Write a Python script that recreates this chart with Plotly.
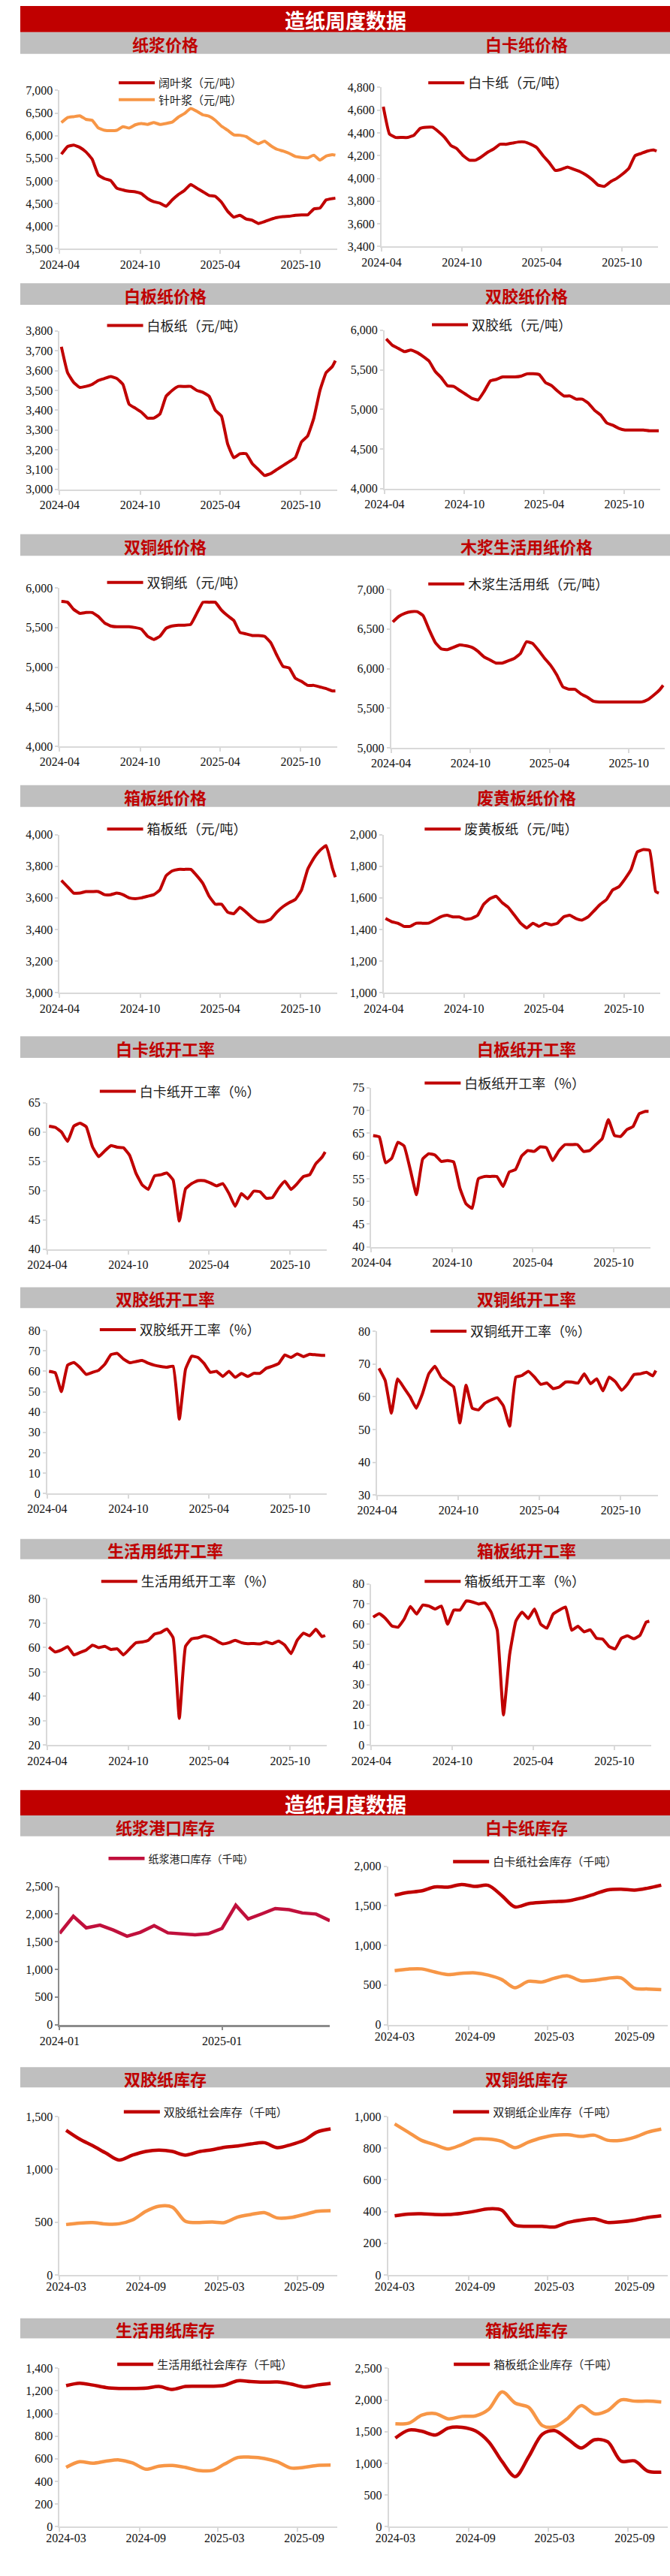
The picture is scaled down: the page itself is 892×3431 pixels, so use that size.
import plotly.graph_objects as go

W, H = 892, 3431
RED = "#C00000"
ORANGE = "#F79646"
CRIMSON = "#C0103C"
GRAY_BAR = "#BFBFBF"
AXIS = "#D9D9D9"
NUM_FONT = "Liberation Serif"
CJK = "Noto Sans CJK SC"

# ---------------- weekly data (two-week sampling) ----------------
weekly_dates = ["2024-04-05", "2024-04-19", "2024-05-03", "2024-05-17", "2024-05-31", "2024-06-14",
                "2024-06-28", "2024-07-12", "2024-07-26", "2024-08-09", "2024-08-23", "2024-09-06",
                "2024-09-20", "2024-10-04", "2024-10-18", "2024-11-01", "2024-11-15", "2024-11-29",
                "2024-12-13", "2024-12-27", "2025-01-10", "2025-01-24", "2025-02-07", "2025-02-21",
                "2025-03-07", "2025-03-21", "2025-04-04", "2025-04-18", "2025-05-02", "2025-05-16",
                "2025-05-30", "2025-06-13", "2025-06-27", "2025-07-11", "2025-07-25", "2025-08-08",
                "2025-08-22", "2025-09-05", "2025-09-19", "2025-10-03", "2025-10-17", "2025-10-31",
                "2025-11-14", "2025-11-28", "2025-12-12", "2025-12-19"]

hardwood_pulp = [5590, 5760, 5790, 5740, 5640, 5480, 5130, 5050, 5010, 4840, 4800, 4770, 4760, 4720, 4610, 4540,
                 4510, 4440, 4580, 4700, 4790, 4920, 4840, 4760, 4680, 4660, 4530, 4330, 4200, 4240, 4160, 4130,
                 4060, 4100, 4150, 4190, 4210, 4220, 4240, 4250, 4250, 4380, 4400, 4580, 4610, 4620]
softwood_pulp = [6290, 6400, 6420, 6440, 6360, 6340, 6170, 6120, 6110, 6120, 6200, 6170, 6240, 6270, 6250, 6290,
                 6250, 6270, 6300, 6410, 6490, 6600, 6540, 6460, 6430, 6340, 6210, 6120, 6020, 6010, 5980, 5890,
                 5820, 5880, 5780, 5700, 5660, 5610, 5540, 5520, 5510, 5570, 5460, 5550, 5580, 5570]
white_card = [4630, 4390, 4360, 4360, 4360, 4380, 4440, 4450, 4450, 4410, 4360, 4290, 4260, 4200, 4160, 4160,
              4190, 4230, 4260, 4300, 4300, 4310, 4320, 4320, 4300, 4270, 4200, 4140, 4070, 4080, 4100, 4080,
              4060, 4030, 3990, 3940, 3930, 3970, 4000, 4040, 4090, 4200, 4220, 4240, 4250, 4240]
white_board = [3720, 3590, 3540, 3515, 3520, 3530, 3550, 3560, 3570, 3560, 3530, 3430, 3410, 3390, 3360, 3360,
               3380, 3470, 3500, 3520, 3520, 3520, 3500, 3490, 3470, 3400, 3370, 3230, 3160, 3180, 3180, 3130,
               3100, 3070, 3080, 3100, 3120, 3140, 3160, 3240, 3270, 3360, 3500, 3590, 3620, 3650]
offset_paper = [5890, 5810, 5770, 5730, 5750, 5720, 5670, 5610, 5480, 5400, 5300, 5290, 5240, 5190, 5140, 5120,
                5230, 5360, 5380, 5410, 5410, 5410, 5420, 5450, 5450, 5440, 5340, 5300, 5230, 5170, 5170, 5130,
                5130, 5080, 4990, 4930, 4830, 4800, 4760, 4740, 4740, 4740, 4740, 4730, 4730, 4730]
coated_paper = [5830, 5820, 5730, 5680, 5690, 5690, 5640, 5560, 5520, 5510, 5510, 5510, 5500, 5480, 5390, 5350,
                5390, 5490, 5520, 5530, 5530, 5540, 5680, 5820, 5820, 5820, 5720, 5650, 5590, 5440, 5420, 5400,
                5400, 5390, 5310, 5150, 5010, 4990, 4860, 4820, 4770, 4770, 4750, 4730, 4700, 4700]
tissue_price = [6590, 6660, 6700, 6720, 6720, 6670, 6490, 6330, 6250, 6240, 6270, 6300, 6290, 6270, 6220, 6150,
                6110, 6070, 6070, 6100, 6130, 6190, 6340, 6320, 6230, 6130, 6040, 5920, 5770, 5740, 5740, 5680,
                5640, 5590, 5580, 5580, 5580, 5580, 5580, 5580, 5580, 5580, 5610, 5670, 5740, 5790]
containerboard = [3710, 3670, 3630, 3630, 3640, 3640, 3640, 3620, 3620, 3630, 3620, 3600, 3595, 3600, 3610, 3620,
                  3650, 3740, 3770, 3780, 3780, 3780, 3740, 3690, 3610, 3560, 3560, 3510, 3500, 3540, 3510, 3475,
                  3450, 3450, 3465, 3510, 3545, 3570, 3590, 3650, 3780, 3850, 3900, 3930, 3790, 3730]
waste_paper = [1470, 1450, 1440, 1420, 1420, 1440, 1440, 1440, 1460, 1480, 1490, 1480, 1480, 1465, 1470, 1490,
               1560, 1595, 1610, 1570, 1540, 1490, 1440, 1410, 1440, 1420, 1440, 1430, 1440, 1480, 1490, 1470,
               1460, 1480, 1520, 1560, 1590, 1650, 1670, 1720, 1780, 1890, 1905, 1900, 1640, 1630]

wc_rate = [61.0, 60.8, 60.0, 58.4, 61.0, 61.5, 60.9, 57.5, 55.8, 56.8, 57.7, 57.4, 57.3, 56.0, 53.0, 51.0,
           50.2, 52.5, 52.7, 53.0, 51.8, 44.8, 50.3, 51.2, 51.7, 51.7, 51.3, 50.8, 51.2, 49.5, 47.3, 49.5,
           48.6, 49.9, 49.8, 48.7, 48.8, 50.4, 51.6, 50.2, 51.2, 52.4, 52.7, 54.6, 55.7, 56.6]
wb_rate = [64.5, 64.2, 58.5, 59.5, 63.0, 62.2, 57.0, 51.5, 59.3, 60.5, 60.2, 58.8, 59.0, 58.7, 53.0, 49.5,
           48.5, 55.0, 55.5, 55.5, 55.5, 53.3, 56.5, 57.0, 60.0, 61.2, 61.0, 62.0, 61.8, 59.0, 61.1, 62.5,
           62.5, 62.5, 61.0, 61.2, 62.5, 63.8, 68.0, 64.5, 64.3, 65.8, 66.5, 69.3, 69.8, 69.8]
op_rate = [60.0, 59.3, 50.0, 63.0, 64.3, 61.8, 58.5, 59.5, 60.5, 63.5, 68.2, 68.8, 66.0, 64.2, 64.8, 65.3,
           64.0, 63.0, 62.4, 62.0, 62.5, 36.5, 61.0, 67.4, 66.8, 63.8, 59.5, 60.0, 57.5, 60.0, 57.0, 59.0,
           57.5, 59.0, 59.0, 61.5, 62.5, 63.8, 68.0, 66.8, 68.6, 67.2, 68.4, 68.1, 67.8, 67.8]
cp_rate = [68.7, 65.0, 55.0, 65.5, 62.8, 60.0, 56.5, 61.0, 67.0, 69.3, 66.0, 64.5, 63.0, 52.0, 63.5, 56.5,
           56.0, 58.0, 59.0, 59.7, 57.2, 51.0, 66.0, 66.5, 67.8, 66.0, 63.8, 64.2, 62.5, 63.0, 64.5, 64.5,
           64.2, 67.0, 64.0, 65.5, 61.8, 66.0, 64.6, 62.0, 64.0, 66.8, 67.0, 67.5, 66.4, 68.0]
tissue_rate = [60.2, 58.2, 59.0, 60.4, 57.0, 58.0, 59.0, 61.0, 60.0, 60.5, 59.2, 59.5, 57.0, 59.5, 62.0, 62.3,
               63.0, 65.5, 66.2, 67.6, 64.0, 31.0, 60.5, 63.6, 64.0, 64.8, 64.2, 62.8, 61.5, 62.0, 63.0, 62.0,
               61.6, 61.7, 61.5, 62.3, 61.6, 62.7, 61.0, 57.5, 63.0, 65.9, 64.8, 67.5, 64.5, 65.0]
cb_rate = [63.5, 65.2, 62.8, 59.2, 58.5, 62.5, 68.8, 65.0, 69.5, 69.0, 67.5, 69.0, 60.0, 67.0, 67.0, 71.5,
           71.0, 70.0, 70.5, 66.0, 57.0, 15.0, 45.0, 61.5, 66.0, 62.8, 67.5, 60.0, 58.0, 65.0, 67.0, 68.5,
           57.0, 59.0, 56.2, 57.2, 53.0, 52.6, 49.0, 47.7, 53.0, 54.2, 52.8, 54.5, 61.0, 61.5]

# ---------------- monthly data ----------------
port_months = ["2024-01-01", "2024-02-01", "2024-03-01", "2024-04-01", "2024-05-01", "2024-06-01", "2024-07-01",
               "2024-08-01", "2024-09-01", "2024-10-01", "2024-11-01", "2024-12-01", "2025-01-01", "2025-02-01",
               "2025-03-01", "2025-04-01", "2025-05-01", "2025-06-01", "2025-07-01", "2025-08-01", "2025-09-01"]
pulp_port = [1650, 1960, 1750, 1800, 1710, 1600, 1670, 1790, 1660, 1640, 1625, 1645, 1740, 2160, 1910, 2005,
             2100, 2080, 2020, 2000, 1880]

inv_months = ["2024-03-16", "2024-04-16", "2024-05-16", "2024-06-16", "2024-07-16", "2024-08-16", "2024-09-16",
              "2024-10-16", "2024-11-16", "2024-12-16", "2025-01-16", "2025-02-16", "2025-03-16", "2025-04-16",
              "2025-05-16", "2025-06-16", "2025-07-16", "2025-08-16", "2025-09-16", "2025-10-16", "2025-11-16"]
wc_social = [1635, 1670, 1689, 1739, 1736, 1770, 1745, 1758, 1630, 1487, 1528, 1544, 1553, 1563, 1597, 1648,
             1701, 1711, 1698, 1723, 1761]
wc_enterprise = [682, 701, 704, 664, 632, 648, 654, 626, 569, 465, 547, 538, 585, 616, 553, 560, 585, 591,
                 459, 450, 443]
op_social = [1370, 1287, 1224, 1153, 1087, 1134, 1169, 1181, 1169, 1134, 1167, 1186, 1209, 1221, 1240, 1252,
             1205, 1233, 1276, 1353, 1382]
op_enterprise = [477, 491, 496, 482, 484, 520, 602, 650, 642, 508, 496, 501, 496, 548, 572, 590, 539, 543,
                 572, 602, 607]
cp_enterprise = [373, 384, 386, 381, 381, 389, 402, 417, 409, 315, 307, 307, 302, 331, 346, 354, 331, 335,
                 346, 362, 373]
cp_social = [953, 901, 850, 822, 795, 822, 858, 858, 843, 803, 838, 866, 882, 885, 874, 882, 850, 850, 869,
             901, 921]
tissue_social = [1246, 1268, 1252, 1230, 1222, 1222, 1224, 1239, 1213, 1239, 1241, 1241, 1250, 1290, 1283,
                 1277, 1279, 1261, 1235, 1252, 1266]
tissue_enterprise = [524, 574, 561, 579, 590, 563, 508, 535, 541, 524, 497, 497, 552, 612, 614, 603, 574, 519,
                     524, 541, 544]
cb_enterprise = [1399, 1525, 1505, 1447, 1557, 1568, 1510, 1340, 1026, 790, 1105, 1458, 1517, 1380, 1242, 1372,
                 1340, 1034, 1038, 877, 861]
cb_social = [1623, 1635, 1761, 1785, 1702, 1741, 1749, 1852, 2127, 1950, 1883, 1596, 1576, 1714, 1910, 1781,
             1832, 2001, 1981, 1981, 1969]

# ---------------- text ----------------
banner_week = "造纸周度数据"
banner_month = "造纸月度数据"
row_titles = [("纸浆价格", "白卡纸价格"), ("白板纸价格", "双胶纸价格"), ("双铜纸价格", "木浆生活用纸价格"),
              ("箱板纸价格", "废黄板纸价格"), ("白卡纸开工率", "白板纸开工率"), ("双胶纸开工率", "双铜纸开工率"),
              ("生活用纸开工率", "箱板纸开工率"), ("纸浆港口库存", "白卡纸库存"), ("双胶纸库存", "双铜纸库存"),
              ("生活用纸库存", "箱板纸库存")]

# ---------------- layout geometry (pixels) ----------------
WK = dict(dates=weekly_dates, kind="week")
MP = dict(dates=port_months, kind="port")
MI = dict(dates=inv_months, kind="inv")


def S(y, name, color, leg=True, width=4.0):
    return dict(y=y, name=name, color=color, leg=leg, width=width)


panels = [
    dict(WK, x=(54, 435), y=(113, 325), r=(3500, 7000), dt=500, fmt=",", lg=(135, 114), lf=15,
         series=[S(hardwood_pulp, "阔叶浆（元/吨）", RED), S(softwood_pulp, "针叶浆（元/吨）", ORANGE)]),
    dict(WK, x=(496, 876), y=(109, 322), r=(3400, 4800), dt=200, fmt=",", lg=(560, 103), lf=18,
         series=[S(white_card, "白卡纸（元/吨）", RED)]),
    dict(WK, x=(54, 435), y=(435, 647), r=(3000, 3800), dt=100, fmt=",", lg=(119, 428), lf=18,
         series=[S(white_board, "白板纸（元/吨）", RED)]),
    dict(WK, x=(500, 879), y=(434, 646), r=(4000, 6000), dt=500, fmt=",", lg=(565, 427), lf=18,
         series=[S(offset_paper, "双胶纸（元/吨）", RED)]),
    dict(WK, x=(54, 435), y=(779, 991), r=(4000, 6000), dt=500, fmt=",", lg=(119, 772), lf=18,
         series=[S(coated_paper, "双铜纸（元/吨）", RED)]),
    dict(WK, x=(509, 885), y=(781, 993), r=(5000, 7000), dt=500, fmt=",", lg=(560, 774), lf=18,
         series=[S(tissue_price, "木浆生活用纸（元/吨）", RED)]),
    dict(WK, x=(54, 435), y=(1109, 1321), r=(3000, 4000), dt=200, fmt=",", lg=(119, 1102), lf=18,
         series=[S(containerboard, "箱板纸（元/吨）", RED)]),
    dict(WK, x=(499, 879), y=(1109, 1321), r=(1000, 2000), dt=200, fmt=",", lg=(555, 1102), lf=18,
         series=[S(waste_paper, "废黄板纸（元/吨）", RED)]),
    dict(WK, x=(37, 421), y=(1468, 1664), r=(40, 65), dt=5, fmt="", lg=(109, 1453), lf=18,
         series=[S(wc_rate, "白卡纸开工率（%）", RED)]),
    dict(WK, x=(482, 865), y=(1448, 1661), r=(40, 75), dt=5, fmt="", lg=(555, 1442), lf=18,
         series=[S(wb_rate, "白板纸开工率（%）", RED)]),
    dict(WK, x=(37, 421), y=(1773, 1991), r=(0, 80), dt=10, fmt="", lg=(109, 1772), lf=18,
         series=[S(op_rate, "双胶纸开工率（%）", RED)]),
    dict(WK, x=(490, 875), y=(1774, 1993), r=(30, 80), dt=10, fmt="", lg=(563, 1774), lf=18,
         series=[S(cp_rate, "双铜纸开工率（%）", RED)]),
    dict(WK, x=(37, 421), y=(2132, 2328), r=(20, 80), dt=10, fmt="", lg=(111, 2109), lf=18,
         series=[S(tissue_rate, "生活用纸开工率（%）", RED)]),
    dict(WK, x=(482, 866), y=(2112, 2328), r=(0, 80), dt=10, fmt="", lg=(555, 2109), lf=18,
         series=[S(cb_rate, "箱板纸开工率（%）", RED)]),
    dict(MP, x=(54, 425), y=(2517, 2702), r=(0, 2500), dt=500, fmt=",", lg=(121, 2480), lf=14,
         series=[S(pulp_port, "纸浆港口库存（千吨）", CRIMSON, width=4.5)]),
    dict(MI, x=(505, 889), y=(2490, 2702), r=(0, 2000), dt=500, fmt=",", lg=(594, 2484), lf=15,
         series=[S(wc_social, "白卡纸社会库存（千吨）", RED, width=4.5),
                 S(wc_enterprise, "白卡纸企业库存（千吨）", ORANGE, leg=False, width=4.5)]),
    dict(MI, x=(54, 435), y=(2825, 3037), r=(0, 1500), dt=500, fmt=",", lg=(142, 2819), lf=15,
         series=[S(op_social, "双胶纸社会库存（千吨）", RED, width=4.5),
                 S(op_enterprise, "双胶纸企业库存（千吨）", ORANGE, leg=False, width=4.5)]),
    dict(MI, x=(505, 889), y=(2825, 3037), r=(0, 1000), dt=200, fmt=",", lg=(594, 2819), lf=15,
         series=[S(cp_enterprise, "双铜纸企业库存（千吨）", RED, width=4.5),
                 S(cp_social, "双铜纸社会库存（千吨）", ORANGE, leg=False, width=4.5)]),
    dict(MI, x=(54, 435), y=(3162, 3374), r=(0, 1400), dt=200, fmt=",", lg=(133, 3157), lf=15,
         series=[S(tissue_social, "生活用纸社会库存（千吨）", RED, width=4.5),
                 S(tissue_enterprise, "生活用纸企业库存（千吨）", ORANGE, leg=False, width=4.5)]),
    dict(MI, x=(506, 889), y=(3162, 3374), r=(0, 2500), dt=500, fmt=",", lg=(595, 3157), lf=15,
         series=[S(cb_enterprise, "箱板纸企业库存（千吨）", RED, width=4.5),
                 S(cb_social, "箱板纸社会库存（千吨）", ORANGE, leg=False, width=4.5)]),
]

bars = [(35, 64), (371, 400), (707, 736), (1043, 1072), (1379, 1408), (1715, 1743), (2052, 2079),
        (2422, 2450), (2759, 2786), (3095, 3122)]
banners = [((0, 35), banner_week), ((2388, 2422), banner_month)]


def fx(p):
    return p / W


def fy(p):
    return 1 - p / H


fig = go.Figure()
layout = dict(width=W, height=H, margin=dict(l=0, r=0, t=0, b=0), paper_bgcolor="white",
              plot_bgcolor="white", showlegend=True, shapes=[], annotations=[])

tickfont = dict(family=NUM_FONT, size=16, color="#111111")

for i, p in enumerate(panels, start=1):
    sx = "" if i == 1 else str(i)
    xref, yref, lgname = "x" + sx, "y" + sx, "legend" + sx
    monthly = p["kind"] != "week"
    for s in p["series"]:
        if p["kind"] == "port":
            line = dict(color=s["color"], width=s["width"], shape="linear")
        else:
            line = dict(color=s["color"], width=s["width"], shape="spline",
                        smoothing=0.9 if monthly else 0.35)
        fig.add_trace(go.Scatter(
            x=p["dates"], y=s["y"], name=s["name"], mode="lines", line=line,
            xaxis=xref, yaxis=yref, legend=lgname, showlegend=s["leg"], hoverinfo="skip"))

    axcol = "#8C8C8C" if p["kind"] == "port" else AXIS
    xa = dict(domain=[fx(p["x"][0]), fx(p["x"][1])], anchor=yref, type="date", showgrid=False,
              zeroline=False, showline=True, linecolor=axcol, linewidth=2, tickfont=tickfont,
              tickmode="array", ticklen=5, tickwidth=1.5, tickcolor=axcol)
    if p["kind"] == "week":
        xa.update(range=["2024-04-01", "2025-12-23"], ticks="outside",
                  tickvals=["2024-04-01", "2024-10-01", "2025-04-01", "2025-10-01"],
                  ticktext=["2024-04", "2024-10", "2025-04", "2025-10"])
    elif p["kind"] == "port":
        xa.update(range=["2024-01-01", "2025-09-01"], ticks="outside", linewidth=2.5,
                  tickvals=["2024-01-01", "2025-01-01"], ticktext=["2024-01", "2025-01"])
    else:
        xa.update(range=["2024-03-01", "2025-12-01"], ticks="",
                  tickvals=["2024-03-16", "2024-09-16", "2025-03-16", "2025-09-16"],
                  ticktext=["2024-03", "2024-09", "2025-03", "2025-09"],
                  minor=dict(tickmode="array",
                             tickvals=["2024-03-01", "2024-09-01", "2025-03-01", "2025-09-01"],
                             ticks="outside", ticklen=5, tickwidth=1.5, tickcolor=axcol))
    ya = dict(domain=[fy(p["y"][1]), fy(p["y"][0])], anchor=xref, range=list(p["r"]),
              dtick=p["dt"], tick0=p["r"][0], tickformat=p["fmt"], showgrid=False, zeroline=False,
              showline=True, linecolor=axcol, linewidth=2, ticks="outside", ticklen=4, tickwidth=1.5,
              tickcolor=axcol, tickfont=tickfont)
    layout["xaxis" + sx] = xa
    layout["yaxis" + sx] = ya
    layout[lgname] = dict(x=fx(p["lg"][0] - 5), y=fy(p["lg"][1]), xanchor="left", yanchor="middle",
                          bgcolor="rgba(0,0,0,0)", borderwidth=0, tracegroupgap=0, itemwidth=48,
                          font=dict(family=CJK, size=p["lf"], color="#1A1A1A"))

for (t, b) in bars:
    layout["shapes"].append(dict(type="rect", xref="paper", yref="paper", x0=0, x1=1, y0=fy(b), y1=fy(t),
                                 fillcolor=GRAY_BAR, line=dict(width=0), layer="below"))
for ((t, b), txt) in banners:
    layout["shapes"].append(dict(type="rect", xref="paper", yref="paper", x0=0, x1=1, y0=fy(b), y1=fy(t),
                                 fillcolor=RED, line=dict(width=0), layer="below"))
    layout["annotations"].append(dict(text=txt, xref="paper", yref="paper", x=0.5, y=fy((t + b) / 2 + 1),
                                      showarrow=False, xanchor="center", yanchor="middle",
                                      font=dict(family=CJK, size=27, color="white", weight="bold")))
for (t, b), (lt, rt) in zip(bars, row_titles):
    for cx, txt in ((199, lt), (695, rt)):
        layout["annotations"].append(dict(text=txt, xref="paper", yref="paper", x=fx(cx),
                                          y=fy((t + b) / 2 + 1), showarrow=False, xanchor="center",
                                          yanchor="middle",
                                          font=dict(family=CJK, size=22, color=RED, weight="bold")))

fig.update_layout(**layout)
fig.write_html("out.html", config={"displayModeBar": False},
               post_script="document.body.style.margin='0';")
